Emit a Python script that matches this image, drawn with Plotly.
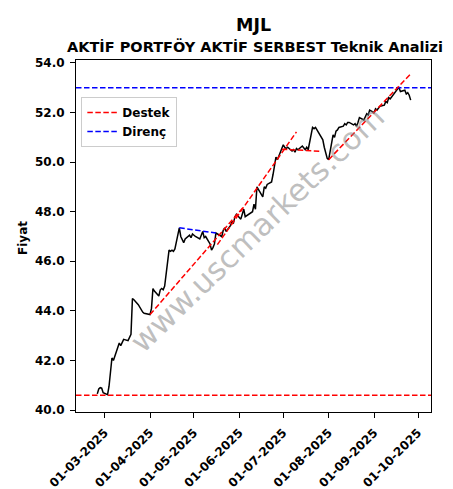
import plotly.graph_objects as go

# ---- price series ----
dates = [
    "2025-02-24", "2025-02-25", "2025-02-26", "2025-02-27", "2025-02-28",
    "2025-03-03", "2025-03-04", "2025-03-05", "2025-03-06", "2025-03-07",
    "2025-03-10", "2025-03-11", "2025-03-12", "2025-03-13", "2025-03-14",
    "2025-03-17", "2025-03-18", "2025-03-19", "2025-03-20", "2025-03-21",
    "2025-03-24", "2025-03-25", "2025-03-26", "2025-03-27", "2025-03-28",
    "2025-04-01", "2025-04-02", "2025-04-03", "2025-04-04",
    "2025-04-07", "2025-04-08", "2025-04-09", "2025-04-10", "2025-04-11",
    "2025-04-14", "2025-04-15", "2025-04-16", "2025-04-17", "2025-04-18",
    "2025-04-21", "2025-04-22", "2025-04-24", "2025-04-25",
    "2025-04-28", "2025-04-29", "2025-04-30", "2025-05-02",
    "2025-05-05", "2025-05-06", "2025-05-07", "2025-05-08", "2025-05-09",
    "2025-05-12", "2025-05-13", "2025-05-14", "2025-05-15", "2025-05-16",
    "2025-05-20", "2025-05-21", "2025-05-22", "2025-05-23",
    "2025-05-26", "2025-05-27", "2025-05-28", "2025-05-29", "2025-05-30",
    "2025-06-02", "2025-06-03", "2025-06-04", "2025-06-05",
    "2025-06-10", "2025-06-11", "2025-06-12", "2025-06-13",
    "2025-06-16", "2025-06-17", "2025-06-18", "2025-06-19", "2025-06-20",
    "2025-06-23", "2025-06-24", "2025-06-25", "2025-06-26", "2025-06-27",
    "2025-06-30", "2025-07-01", "2025-07-02", "2025-07-03", "2025-07-04",
    "2025-07-07", "2025-07-08", "2025-07-09", "2025-07-10", "2025-07-11",
    "2025-07-14", "2025-07-16", "2025-07-17", "2025-07-18",
    "2025-07-21", "2025-07-22", "2025-07-23", "2025-07-24", "2025-07-25",
    "2025-07-28", "2025-07-29", "2025-07-30", "2025-07-31", "2025-08-01",
    "2025-08-04", "2025-08-05", "2025-08-06", "2025-08-07", "2025-08-08",
    "2025-08-11", "2025-08-12", "2025-08-13", "2025-08-14", "2025-08-15",
    "2025-08-18", "2025-08-19", "2025-08-20", "2025-08-21", "2025-08-22",
    "2025-08-25", "2025-08-26", "2025-08-27", "2025-08-28", "2025-08-29",
    "2025-09-01", "2025-09-02", "2025-09-03", "2025-09-04", "2025-09-05",
    "2025-09-08", "2025-09-09", "2025-09-10", "2025-09-11", "2025-09-12",
    "2025-09-15", "2025-09-16", "2025-09-17", "2025-09-18", "2025-09-19",
    "2025-09-22", "2025-09-23", "2025-09-24", "2025-09-25", "2025-09-26",
]
prices = [
    40.65, 40.85, 40.90, 40.88, 40.70,
    40.62, 40.95, 41.60, 42.10, 42.00,
    42.55, 42.70, 42.60, 42.75, 42.85,
    42.80, 42.95, 43.05, 44.50, 44.45,
    44.25, 44.15, 44.00, 43.95, 43.90,
    43.85, 44.10, 44.90, 44.80,
    44.60, 44.85, 44.90, 44.85, 45.00,
    46.45, 46.40, 46.45, 46.40, 46.50,
    47.35, 47.00, 46.75, 46.90,
    47.05, 46.95, 47.10, 47.00,
    46.90, 47.05, 47.20, 46.95, 47.00,
    46.70, 46.45, 46.55, 46.70, 47.14,
    47.00, 47.25, 47.35, 47.20,
    47.45, 47.60, 47.55, 47.80, 47.90,
    47.70, 47.95, 48.10, 47.80,
    48.00, 48.30, 48.10, 49.00,
    48.70, 48.60, 49.00, 48.95, 49.10,
    49.20, 49.50, 49.80, 50.20, 50.10,
    50.50, 50.70, 50.60, 50.55, 50.60,
    50.45, 50.50, 50.40, 50.55, 50.50,
    50.65, 50.50, 50.60, 50.50,
    51.40, 51.35, 51.40, 51.30, 51.20,
    50.90, 50.60, 50.30, 50.15, 50.10,
    51.10, 51.00, 51.25, 51.30, 51.40,
    51.45, 51.55, 51.50, 51.60, 51.60,
    51.50, 51.55, 51.45, 51.60, 51.80,
    51.70, 51.85, 51.95, 51.90, 52.10,
    52.00, 52.15, 52.10, 52.20, 52.25,
    52.30, 52.45, 52.40, 52.60, 52.55,
    52.80, 52.90, 52.95, 53.00, 52.85,
    52.90, 52.75, 52.80, 52.70, 52.50,
]

# ---- support (Destek) lines ----
support_level = 40.6
support1_dates = ["2025-04-01", "2025-06-04"]
support1_vals = [43.85, 48.20]
support2_dates = ["2025-05-17", "2025-07-10"]
support2_vals = [46.67, 51.22]
support3_dates = ["2025-06-30", "2025-07-26"]
support3_vals = [50.52, 50.44]
support4_dates = ["2025-08-01", "2025-09-26"]
support4_vals = [50.10, 53.56]

# ---- resistance (Direnç) lines ----
resistance_level = 53.0
resist1_dates = ["2025-04-21", "2025-05-16"]
resist1_vals = [47.35, 47.14]

x_range = ["2025-02-09 11:00", "2025-10-09 21:00"]
y_range = [39.92, 54.12]
y_ticks = [40, 42, 44, 46, 48, 50, 52, 54]
x_ticks = ["2025-03-01", "2025-04-01", "2025-05-01", "2025-06-01",
           "2025-07-01", "2025-08-01", "2025-09-01", "2025-10-01"]

FONT = "DejaVu Sans"
DASH = "5.5px,2.5px"
L, R, T, B = 68, 30, 52, 85
PW, PH = 453 - L - R, 489 - T - B

fig = go.Figure()

fig.add_trace(go.Scatter(x=dates, y=prices, mode="lines",
                         line=dict(color="black", width=1.5),
                         showlegend=False, hoverinfo="skip"))

# full-width horizontal lines
fig.add_trace(go.Scatter(x=x_range, y=[support_level, support_level], mode="lines",
                         line=dict(color="red", width=1.5, dash=DASH),
                         name="Destek", legendgroup="d", showlegend=True))
fig.add_trace(go.Scatter(x=x_range, y=[resistance_level, resistance_level], mode="lines",
                         line=dict(color="blue", width=1.5, dash=DASH),
                         name="Direnç", legendgroup="r", showlegend=True))

for dx, vy in [(support1_dates, support1_vals), (support2_dates, support2_vals),
               (support3_dates, support3_vals), (support4_dates, support4_vals)]:
    fig.add_trace(go.Scatter(x=dx, y=vy, mode="lines",
                             line=dict(color="red", width=1.5, dash=DASH),
                             legendgroup="d", showlegend=False))
fig.add_trace(go.Scatter(x=resist1_dates, y=resist1_vals, mode="lines",
                         line=dict(color="blue", width=1.5, dash=DASH),
                         legendgroup="r", showlegend=False))

axis_common = dict(showline=True, linecolor="black", linewidth=1, mirror=True,
                   ticks="outside", ticklen=5, tickcolor="black", showgrid=False,
                   zeroline=False, automargin=False, ticklabelstandoff=3,
                   tickfont=dict(family=FONT, size=12, color="black", weight="bold"))

fig.update_xaxes(range=x_range, tickvals=x_ticks, tickformat="%d-%m-%Y",
                 tickangle=-45, **axis_common)
fig.update_yaxes(range=y_range, tickvals=y_ticks, tickformat=".1f", **axis_common)

fig.add_annotation(text="Fiyat", xref="paper", yref="paper", x=(15 - L) / PW, y=(489 - B - 230) / PH,
                   showarrow=False, textangle=-90, xanchor="center", yanchor="middle",
                   font=dict(family=FONT, size=12, color="black", weight="bold"))
fig.add_annotation(text="MJL", xref="paper", yref="paper", x=0.5, y=1.0,
                   yshift=T - 17, showarrow=False, yanchor="middle",
                   font=dict(family=FONT, size=17.5, color="black", weight="bold"))
fig.add_annotation(text="AKTİF PORTFÖY AKTİF SERBEST Teknik Analizi", xref="paper", yref="paper",
                   x=0.503, y=1.0, yshift=T - 38, showarrow=False, yanchor="middle",
                   font=dict(family=FONT, size=14.5, color="black", weight="bold"))
fig.add_annotation(text="www.uscmarkets.com", xref="paper", yref="paper", x=0.51, y=0.52,
                   showarrow=False, textangle=-44,
                   font=dict(family=FONT, size=31, color="rgba(128,128,128,0.5)"))

fig.update_layout(
    width=453, height=489,
    margin=dict(l=L, r=R, t=T, b=B),
    paper_bgcolor="white", plot_bgcolor="white",
    font=dict(family=FONT, color="black"),
    legend=dict(x=0.015, y=0.895, xanchor="left", yanchor="top",
                bgcolor="rgba(255,255,255,0.8)", bordercolor="#cccccc", borderwidth=1,
                font=dict(family=FONT, size=12, color="black", weight="bold"),
                itemwidth=30, tracegroupgap=0),
)

fig.write_html("out.html")
